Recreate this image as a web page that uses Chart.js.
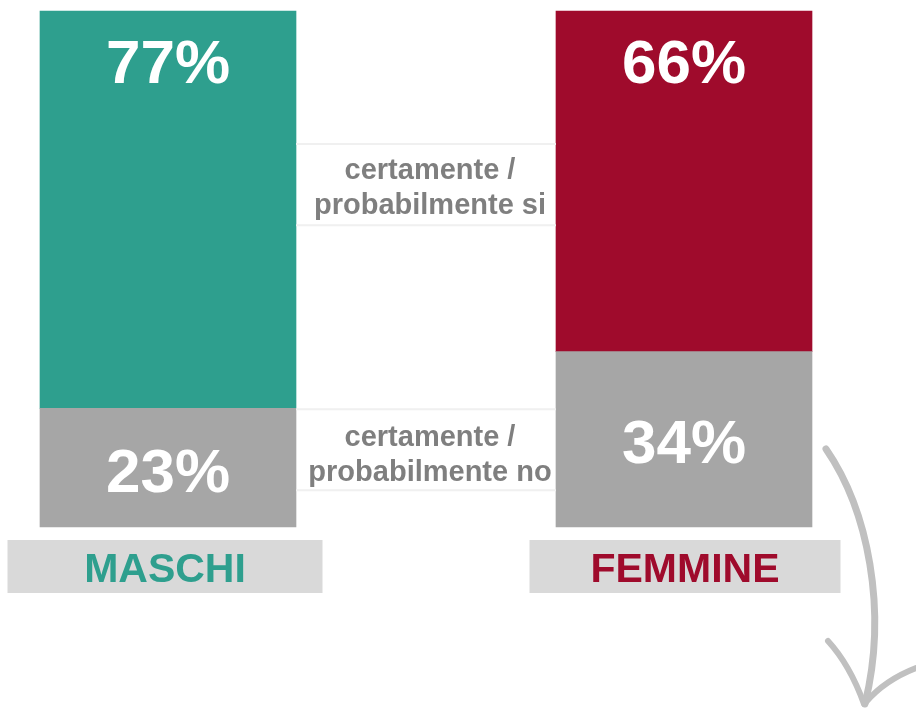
<!DOCTYPE html>
<html>
<head>
<meta charset="utf-8">
<script src="https://cdn.jsdelivr.net/npm/chart.js@4/dist/chart.umd.min.js"></script>
<style>
  html, body { margin: 0; padding: 0; background: #ffffff; }
  #wrap { width: 916px; height: 714px; position: relative; }
</style>
</head>
<body>
<div id="wrap"><canvas id="c"></canvas></div>
<script>
const categories = ['MASCHI', 'FEMMINE'];
const siValues = [77, 66];
const noValues = [23, 34];
const seriesNames = ['certamente / probabilmente si', 'certamente / probabilmente no'];
const categoryColors = ['#2e9f8e', '#9f0b2c'];
const noColor = '#a6a6a6';

const FONT = '"Liberation Sans", Arial, Helvetica, sans-serif';

const decorPlugin = {
  id: 'decor',
  afterDatasetsDraw(chart) {
    const ctx = chart.ctx;
    const xs = chart.scales.x, ys = chart.scales.y;
    const ca = chart.chartArea;

    // value labels
    ctx.save();
    ctx.fillStyle = '#ffffff';
    ctx.font = 'bold 62px ' + FONT;
    ctx.textAlign = 'center';
    ctx.textBaseline = 'middle';
    chart.data.datasets.forEach((ds, di) => {
      const meta = chart.getDatasetMeta(di);
      meta.data.forEach((bar, i) => {
        const v = ds.data[i];
        const y = di === 1 ? bar.y + 55 : (bar.y + bar.base) / 2 + 7;
        ctx.fillText(v + '%', bar.x, y);
      });
    });
    ctx.restore();

    // series labels between bars
    const meta0 = chart.getDatasetMeta(0);
    const barL = meta0.data[0], barR = meta0.data[1];
    const leftEdge = barL.x + barL.width / 2;
    const rightEdge = barR.x - barR.width / 2;
    const midX = (leftEdge + rightEdge) / 2 + 4;
    const noTop = ys.getPixelForValue(noValues[0]);
    const boxes = [
      { top: ys.getPixelForValue(74.4), bottom: ys.getPixelForValue(58.5) + 1, text: seriesNames[0], dy: 3 },
      { top: noTop, bottom: noTop + 83, text: seriesNames[1], dy: 5 }
    ];
    ctx.save();
    boxes.forEach(b => {
      ctx.strokeStyle = '#f0f0f0';
      ctx.lineWidth = 2;
      ctx.beginPath();
      ctx.moveTo(leftEdge, b.top + 1); ctx.lineTo(rightEdge, b.top + 1);
      ctx.moveTo(leftEdge, b.bottom - 1); ctx.lineTo(rightEdge, b.bottom - 1);
      ctx.stroke();
      ctx.fillStyle = '#7f7f7f';
      ctx.font = 'bold 29px ' + FONT;
      ctx.textAlign = 'center';
      ctx.textBaseline = 'middle';
      const parts = b.text.split(' / ');
      const cy = (b.top + b.bottom) / 2 + b.dy;
      ctx.fillText(parts[0] + ' /', midX, cy - 17);
      ctx.fillText(parts[1], midX, cy + 18);
    });
    ctx.restore();

    // category label boxes
    ctx.save();
    categories.forEach((cat, i) => {
      const cx = xs.getPixelForValue(i) - (i === 0 ? 3 : -1);
      const w = i === 0 ? 315 : 311, h = 53, top = ca.bottom + 13;
      ctx.fillStyle = '#d9d9d9';
      ctx.fillRect(cx - w / 2, top, w, h);
      ctx.fillStyle = categoryColors[i];
      ctx.font = 'bold 41px ' + FONT;
      ctx.textAlign = 'center';
      ctx.textBaseline = 'middle';
      ctx.fillText(cat, cx, top + h / 2 + 4);
    });
    ctx.restore();

    // decorative hand-drawn arrow
    ctx.save();
    ctx.strokeStyle = '#c0c0c0';
    ctx.lineCap = 'round';
    ctx.lineJoin = 'round';
    ctx.lineWidth = 7;
    ctx.beginPath();
    ctx.moveTo(826, 449);
    ctx.bezierCurveTo(868, 510, 888, 610, 865, 704);
    ctx.stroke();
    ctx.lineWidth = 6;
    ctx.beginPath();
    ctx.moveTo(828, 641);
    ctx.quadraticCurveTo(850, 665, 864, 704);
    ctx.stroke();
    ctx.beginPath();
    ctx.moveTo(916, 668);
    ctx.quadraticCurveTo(885, 680, 866, 702);
    ctx.stroke();
    ctx.restore();
  }
};

new Chart(document.getElementById('c'), {
  type: 'bar',
  data: {
    labels: categories,
    datasets: [
      { label: seriesNames[1], data: noValues, backgroundColor: noColor, borderWidth: 0, barThickness: 256, clip: false },
      { label: seriesNames[0], data: siValues, backgroundColor: categoryColors, borderWidth: 0, barThickness: 256, clip: false }
    ]
  },
  options: {
    responsive: true,
    maintainAspectRatio: false,
    animation: false,
    layout: { padding: { left: 168, right: 232, top: 11, bottom: 187 } },
    plugins: { legend: { display: false }, tooltip: { enabled: false } },
    scales: {
      x: { stacked: true, display: false, offset: false },
      y: { stacked: true, display: false, min: 0, max: 100 }
    }
  },
  plugins: [decorPlugin]
});
</script>
</body>
</html>
